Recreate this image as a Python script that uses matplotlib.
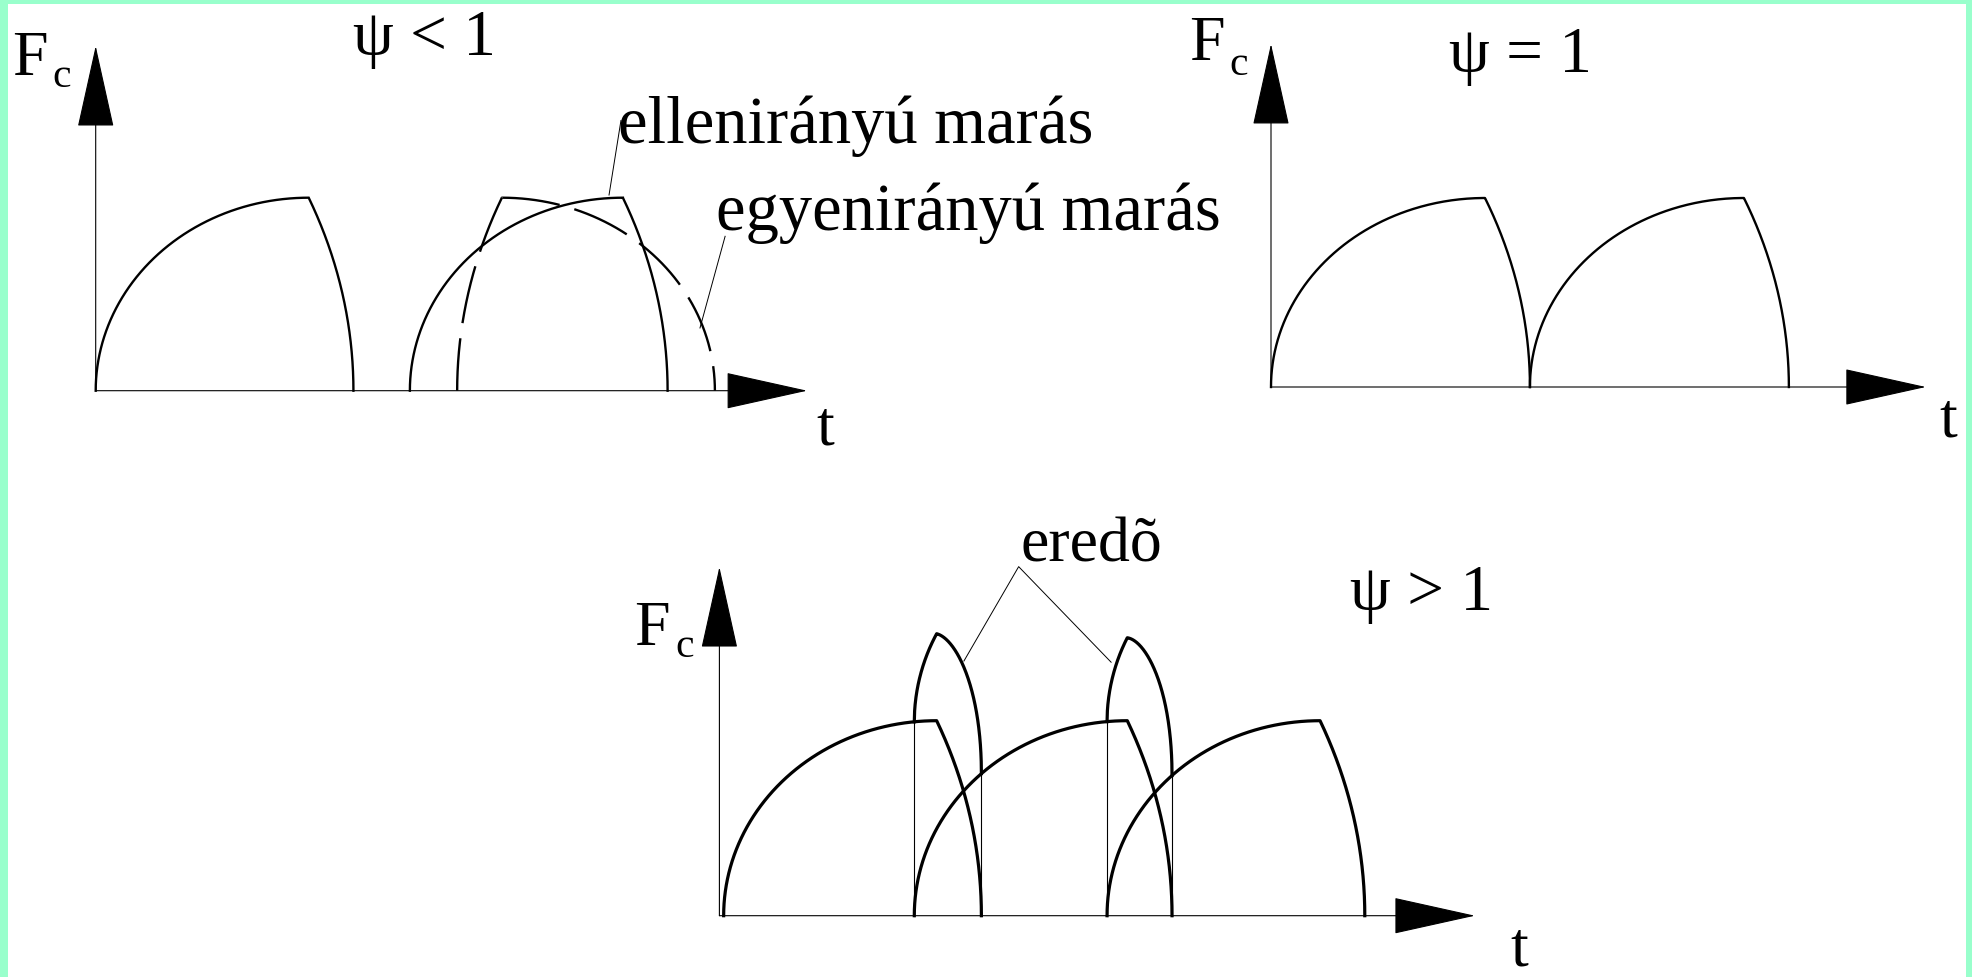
import numpy as np
import matplotlib
matplotlib.use("Agg")
import matplotlib.pyplot as plt
from matplotlib.patches import Rectangle

plt.rcParams['font.family'] = ['Liberation Serif', 'DejaVu Serif']
plt.rcParams['lines.scale_dashes'] = False

# tooth force model (t in units of the rising phase, F relative to peak)
RISE = 1.0          # duration of the rising part of one tooth pulse
FALL = 0.21         # duration of the falling part
PEAK = 1.0          # peak cutting force

# panel 1: psi < 1
p1_up_starts = [0.0, 1.475]     # ellenirányú marás (solid)
p1_down_starts = [1.697]        # egyenirányú marás (dashed)
# panel 2: psi = 1
p2_starts = [0.0, 1.21]
# panel 3: psi > 1
p3_starts = [0.02, 0.915, 1.82]

labels_psi = ["ψ < 1", "ψ = 1", "ψ > 1"]
label_up = "ellenirányú marás"
label_down = "egyenirányú marás"
label_sum = "eredõ"

W, H = 1972, 978
N = 300
fig = plt.figure(figsize=(W / 100, H / 100), dpi=100)
fig.patch.set_facecolor('white')


def tooth(t0, mirrored=False, n=N):
    th = np.linspace(0, np.pi / 2, n)
    t_up = t0 + RISE * (1 - np.cos(th))
    f_up = PEAK * np.sin(th)
    # falling flank: flat elliptic arc, steep at the top, vertical at the base
    th0 = np.radians(22)
    A = FALL / (1 - np.cos(th0))
    B = PEAK / np.sin(th0)
    th2 = np.linspace(th0, 0, n)
    te = t0 + RISE + FALL
    t_dn = te - A + A * np.cos(th2)
    f_dn = B * np.sin(th2)
    t = np.concatenate([t_up, t_dn])
    f = np.concatenate([f_up, f_dn])
    if mirrored:
        t = (2 * t0 + RISE + FALL - t)[::-1]
        f = f[::-1]
    return t, f


def force(t0, tq):
    t, f = tooth(t0)
    return np.interp(tq, t, f, left=0, right=0)


def panel(ox, oy, sx, sy, xtip, ytip):
    xlim = (-0.3, xtip + 0.05)
    ylim = (-0.3, ytip + 0.05)
    left = (ox + xlim[0] * sx) / W
    width = (xlim[1] - xlim[0]) * sx / W
    bottom = 1 - (oy - ylim[0] * sy) / H
    height = (ylim[1] - ylim[0]) * sy / H
    ax = fig.add_axes([left, bottom, width, height])
    ax.set_xlim(*xlim)
    ax.set_ylim(*ylim)
    ax.axis('off')
    arrow = dict(arrowstyle='-|>,head_length=5.5,head_width=1.22', mutation_scale=10,
                 lw=0.8, color='black', shrinkA=0, shrinkB=0)
    ax.annotate('', xy=(xtip, 0), xytext=(0, 0), arrowprops=arrow)
    ax.annotate('', xy=(0, ytip), xytext=(0, 0), arrowprops=arrow)
    return ax


def ftext(x, y, s, size=46, **kw):
    fig.text(x / W, 1 - y / H, s, fontsize=size, ha='left', va='baseline', **kw)


# ---- panel 1 ----
ax1 = panel(95.7, 391.7, 213, 193, 3.34, 1.786)
for s in p1_up_starts:
    t, f = tooth(s)
    ax1.plot(t, f, color='black', lw=1.7, solid_joinstyle='miter')
dash = (0, (42, 11))
for s in p1_down_starts:
    t, f = tooth(s, mirrored=True)
    # dash both flanks outward from the peak corner
    ax1.plot(t[:N][::-1], f[:N][::-1], color='black', lw=1.7, linestyle=dash)
    ax1.plot(t[N - 1:], f[N - 1:], color='black', lw=1.7, linestyle=dash)
ax1.plot([2.41, 2.466], [1.014, 1.40], color='black', lw=0.7)
ax1.plot([2.837, 2.955], [0.325, 0.80], color='black', lw=0.7)
ftext(12, 75, "F")
ftext(52, 87, "c", size=30)
ftext(353, 55, labels_psi[0], size=47)
ftext(618, 143, label_up, size=48)
ftext(716, 230, label_down, size=48)
ftext(816, 445, "t")

# ---- panel 2 ----
ax2 = panel(1271, 388, 214, 189, 3.06, 1.815)
for s in p2_starts:
    t, f = tooth(s)
    ax2.plot(t, f, color='black', lw=1.7)
ftext(1189, 60, "F")
ftext(1229, 75, "c", size=30)
ftext(1449, 72, labels_psi[1], size=47)
ftext(1939, 437, "t")

# ---- panel 3 ----
ax3 = panel(719.4, 916.7, 213, 195, 3.547, 1.788)
for s in p3_starts:
    t, f = tooth(s)
    ax3.plot(t, f, color='black', lw=2.3)
for a, b in zip(p3_starts[:-1], p3_starts[1:]):
    te = a + RISE + FALL
    tq = np.linspace(b, te, 400)
    res = force(a, tq) + force(b, tq)
    ax3.plot(tq, res, color='black', lw=2.3)
    ax3.plot([b, b], [0, force(a, b)], color='black', lw=0.8)
    ax3.plot([te, te], [0, res[-1]], color='black', lw=0.8)
ax3.plot([1.148, 1.405, 1.839], [1.306, 1.79, 1.30], color='black', lw=0.7)
ftext(634, 645, "F")
ftext(675, 657, "c", size=30)
ftext(1350, 610, labels_psi[2], size=47)
ftext(1020, 561, label_sum)
ftext(1510, 966, "t")

# frame strips
green = '#99FFCC'
fig.add_artist(Rectangle((0, 1 - 5 / H), 1, 5 / H, transform=fig.transFigure,
                         facecolor=green, edgecolor='none'))
fig.add_artist(Rectangle((0, 0), 8 / W, 1, transform=fig.transFigure,
                         facecolor=green, edgecolor='none'))
fig.add_artist(Rectangle((1 - 6 / W, 0), 6 / W, 1, transform=fig.transFigure,
                         facecolor=green, edgecolor='none'))

fig.savefig('out.png', dpi=100)
